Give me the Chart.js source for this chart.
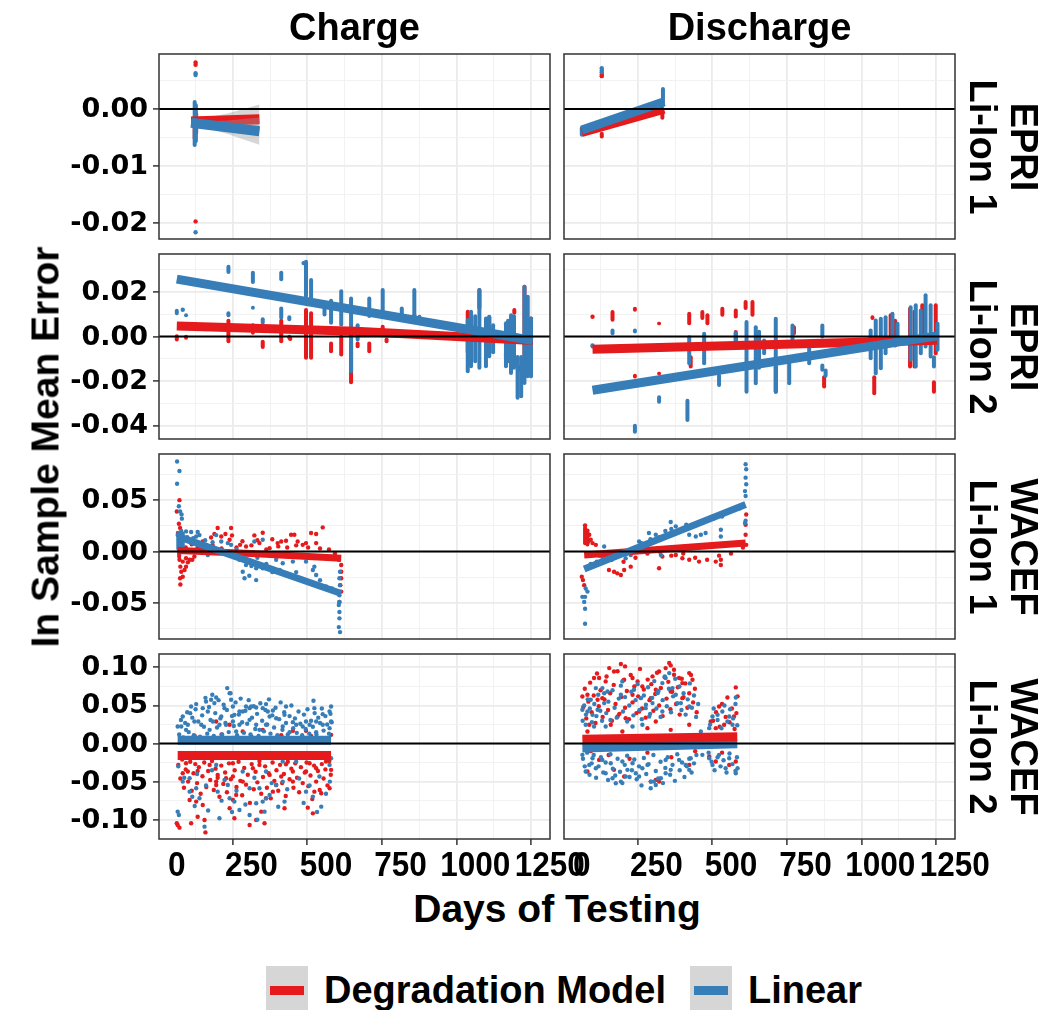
<!DOCTYPE html>
<html>
<head>
<meta charset="utf-8">
<script src="https://cdn.jsdelivr.net/npm/chart.js@4.4.1/dist/chart.umd.min.js"></script>
<style>
  html, body { margin:0; padding:0; background:#fff; }
  body { width:1056px; height:1010px; overflow:hidden; position:relative; font-family:'Liberation Sans', Arial, sans-serif; }
  canvas { position:absolute; }
  .txt { position:absolute; white-space:nowrap; font-weight:bold; color:#000; line-height:1; }
  .rot { position:absolute; white-space:nowrap; font-weight:bold; color:#000; text-align:center; }
  .box { position:absolute; }
</style>
</head>
<body>
<script>
// ---------- labels ----------
const rowLabels = [["EPRI","Li-Ion 1"],["EPRI","Li-Ion 2"],["WACEF","Li-Ion 1"],["WACEF","Li-Ion 2"]];
const colLabels = ["Charge","Discharge"];
const seriesNames = ["Degradation Model","Linear"];
const xTitle = "Days of Testing";
const yTitle = "In Sample Mean Error";

// ---------- axes ----------
const xLimits = [-59.6, 1250.6];
const xMajorTicks = [0,250,500,750,1000,1250];
const xMinorTicks = [125,375,625,875,1125];
const xTickLabels = ["0","250","500","750","1000","1250"];
const yLimitsByRow = [[-0.0229,0.0097],[-0.0461,0.0371],[-0.0851,0.0949],[-0.1254,0.1176]];
const yMajorByRow = [[-0.02,-0.01,0],[-0.04,-0.02,0,0.02],[-0.05,0,0.05],[-0.1,-0.05,0,0.05,0.1]];
const yMinorByRow = [[-0.015,-0.005,0.005],[-0.03,-0.01,0.01,0.03],[-0.075,-0.025,0.025,0.075],[-0.075,-0.025,0.025,0.075]];
const yTickLabelsByRow = [["-0.02","-0.01","0.00"],["-0.04","-0.02","0.00","0.02"],["-0.05","0.00","0.05"],["-0.10","-0.05","0.00","0.05","0.10"]];

// ---------- data: [day, error]  /  columns of points: [day, low, high] ----------
// EPRI Li-Ion 1 - Charge
const e1c_degPts = [[63,0.0082],[63,0.0078],[63,-0.0198],[58,-0.0030]];
const e1c_linPts = [[63,0.0063],[63,0.0060],[63,-0.0217]];
const e1c_degCols = [[60,-0.0055,-0.0010],[65,-0.0045,-0.0005]];
const e1c_linCols = [[60,-0.0067,0.0016],[64,-0.0060,0.0010]];
const e1c_degFit = [[48,-0.0022],[277,-0.0018]];
const e1c_linFit = [[48,-0.0024],[277,-0.0039]];
const e1c_degBand = [[48,-0.0026,-0.0018],[63,-0.0025,-0.0019],[170,-0.0032,-0.0008],[277,-0.0044,0.0008]];
const e1c_linBand = [[48,-0.0028,-0.0020],[63,-0.0028,-0.0022],[170,-0.0044,-0.0020],[277,-0.0063,-0.0015]];

// EPRI Li-Ion 1 - Discharge
const e1d_degPts = [[67,0.0061],[67,0.0058]];
const e1d_linPts = [[67,0.0072],[67,0.0068],[67,0.0065]];
const e1d_degCols = [[67,-0.0052,-0.0040],[270,-0.0019,-0.0005]];
const e1d_linCols = [[0,-0.0049,-0.0030],[4,-0.0046,-0.0032],[272,0.0004,0.0039]];
const e1d_degFit = [[0,-0.0041],[276,0.0000]];
const e1d_linFit = [[0,-0.0037],[276,0.0013]];

// EPRI Li-Ion 2 - Charge
const e2c_degPts = [[380,-0.0010]];
const e2c_linPts = [[20,0.0120],[425,0.0330]];
const e2c_degCols = [[0,-0.0023,0.0010],[31,-0.0015,0.0008],[173,-0.0030,0.0080],[255,0.0008,0.0060],[288,-0.0056,-0.0015],[350,-0.0030,0.0080],[377,-0.0015,0.0008],[433,-0.0105,0.0128],[450,-0.0105,0.0113],[517,-0.0075,-0.0023],[551,-0.0090,0.0008],[584,-0.0215,-0.0020],[606,-0.0053,-0.0023],[645,-0.0075,-0.0023],[690,0.0023,0.0053],[703,-0.0030,-0.0005],[754,0.0075,0.0098],[796,0.0075,0.0105],[975,-0.0080,0.0120],[1014,0.0120,0.0218],[1047,-0.0080,0.0095],[1103,-0.0098,-0.0068],[1131,0.0098,0.0128],[1150,-0.0158,-0.0128],[1165,-0.0158,0.0233],[1187,0.0053,0.0090]];
const e2c_linCols = [[0,0.0095,0.0125],[31,0.0086,0.0105],[173,0.0281,0.0323],[173,0.0086,0.0113],[255,0.0236,0.0296],[255,0.0120,0.0138],[288,0.0053,0.0086],[350,0.0248,0.0296],[350,0.0075,0.0135],[377,0.0068,0.0095],[433,0.0173,0.0345],[450,0.0165,0.0263],[495,0.0090,0.0158],[517,0.0053,0.0170],[551,0.0045,0.0213],[584,-0.0165,0.0180],[606,-0.0023,0.0060],[645,0.0083,0.0180],[690,0.0098,0.0218],[754,0.0068,0.0135],[796,0.0083,0.0218],[813,0.0053,0.0098],[975,-0.0165,0.0083],[986,-0.0143,0.0120],[1000,-0.0120,0.0100],[1014,-0.0150,0.0218],[1036,-0.0143,0.0090],[1047,-0.0098,0.0098],[1060,-0.0080,0.0060],[1103,-0.0143,0.0068],[1110,-0.0120,0.0080],[1120,-0.0173,0.0105],[1130,-0.0150,0.0100],[1142,-0.0285,-0.0083],[1154,-0.0278,-0.0083],[1165,-0.0218,0.0233],[1176,-0.0188,0.0188],[1187,-0.0188,0.0090]];
const e2c_degFit = [[0,0.0047],[600,0.0024],[1193,-0.0018]];
const e2c_linFit = [[0,0.0258],[1193,-0.0018]];

// EPRI Li-Ion 2 - Discharge
const e2d_degPts = [[36,0.0089]];
const e2d_linPts = [[36,-0.0040]];
const e2d_degCols = [[103,0.0066,0.0119],[178,0.0111,0.0134],[178,-0.0189,-0.0167],[259,0.0051,0.0066],[259,-0.0174,-0.0159],[360,0.0051,0.0111],[365,-0.0144,-0.0084],[404,0.0074,0.0119],[421,0.0051,0.0104],[471,0.0089,0.0134],[516,0.0081,0.0126],[516,-0.0039,0.0029],[549,0.0119,0.0164],[572,0.0089,0.0164],[650,-0.0257,-0.0129],[711,0.0006,0.0051],[812,-0.0234,-0.0174],[980,-0.0264,-0.0174],[974,0.0074,0.0096],[1035,-0.0039,0.0104],[1050,-0.0050,0.0080],[1100,-0.0144,0.0134],[1115,-0.0144,0.0120],[1141,-0.0039,0.0149],[1180,-0.0257,-0.0197],[1186,-0.0084,0.0149]];
const e2d_linCols = [[36,-0.0054,-0.0036],[103,0.0006,0.0036],[178,0.0014,0.0036],[178,-0.0437,-0.0392],[259,-0.0302,-0.0264],[360,-0.0129,0.0006],[354,-0.0385,-0.0280],[410,-0.0129,0.0021],[460,-0.0227,-0.0167],[516,-0.0054,0.0024],[552,-0.0257,0.0074],[583,-0.0219,0.0051],[594,-0.0150,0.0030],[611,-0.0084,-0.0009],[650,-0.0257,0.0089],[695,-0.0219,-0.0084],[706,-0.0039,0.0059],[762,-0.0129,-0.0024],[806,-0.0009,0.0059],[806,-0.0159,-0.0122],[817,-0.0185,-0.0144],[968,-0.0107,0.0036],[985,-0.0174,0.0081],[1002,-0.0152,0.0089],[1018,-0.0084,0.0096],[1041,-0.0047,0.0111],[1058,-0.0024,0.0066],[1102,-0.0114,0.0141],[1119,-0.0144,0.0149],[1136,-0.0084,0.0126],[1152,-0.0054,0.0194],[1169,-0.0099,0.0149],[1180,-0.0144,-0.0084],[1192,-0.0069,0.0066]];
const e2d_degFit = [[36,-0.0057],[1191,-0.0017]];
const e2d_linFit = [[36,-0.0242],[1191,0.0003]];

// WACEF Li-Ion 1 - Charge
const w1c_degPts = [[9,0.050],[0,0.039],[7,0.027],[11,0.023],[4,0.018],[9,-0.008],[12,-0.0147],[15,-0.0196],[11,-0.026],[12,-0.032],[20,-0.0245],[26,-0.018],[31,-0.0147],[37,-0.0105],[43,-0.008],[52,-0.008],[59,-0.0049],[20,-0.0098],[31,-0.0065],[115,0.0137],[126,0.017],[137,0.0229],[149,0.0147],[163,0.017],[182,0.0229],[185,0.0157],[177,0.0114],[87,0.0098],[98,0.0065],[212,0.0065],[232,0.0049],[260,0.0157],[288,0.0183],[277,0.0082],[311,0.0033],[338,0.0082],[350,0.0098],[366,0.0105],[383,0.0163],[394,0.0163],[405,0.0098],[433,0.0082],[450,0.018],[467,0.017],[489,0.0235],[467,0.0082],[422,0.0065],[551,-0.0131],[551,-0.0196],[551,-0.026],[548,-0.0327],[551,-0.039],[545,-0.049],[543,-0.008],
  [30,0.004],[50,0.007],[70,0.004],[90,0.002],[120,0.006],[150,0.003],[200,0.004],[220,0.010],[250,0.006],[270,0.011],[300,0.002],[320,0.012],[340,0.005],[370,0.004],[400,0.006],[440,0.004],[480,0.003],[510,0.002],[530,-0.002]];
const w1c_linPts = [[1,0.0876],[9,0.0784],[1,0.066],[7,0.044],[11,0.039],[16,0.036],[17,0.032],[3,0.016],[15,0.020],[31,0.0196],[48,0.019],[70,0.019],[65,0.0147],[76,0.016],[87,0.0],[104,-0.0033],[132,0.016],[149,0.0098],[171,0.0082],[182,0.0065],[221,-0.0196],[227,-0.026],[243,-0.0235],[266,-0.0278],[232,-0.0131],[260,0.0098],[288,0.0114],[266,-0.0163],[288,-0.0163],[333,-0.008],[366,-0.0033],[389,-0.0098],[433,-0.0098],[461,-0.0147],[467,-0.0229],[456,-0.018],[355,-0.0114],[547,-0.0196],[545,-0.026],[547,-0.0327],[545,-0.0425],[543,-0.052],[545,-0.0588],[545,-0.065],[543,-0.0735],[547,-0.0784],[545,-0.049],
  [25,0.012],[35,0.014],[45,0.010],[55,0.013],[60,0.008],[80,0.006],[95,0.011],[110,0.004],[120,0.009],[140,0.001],[160,-0.002],[190,-0.004],[200,0.002],[210,-0.008],[240,-0.010],[250,-0.014],[270,-0.006],[300,-0.012],[320,-0.020],[345,-0.018],[375,-0.022],[400,-0.020],[420,-0.028],[450,-0.030],[480,-0.028],[500,-0.034],[520,-0.036]];
const w1c_degCols = [[8,-0.0070,0.0040]];
const w1c_linCols = [[5,0.0000,0.0200],[12,-0.0030,0.0190],[20,0.0020,0.0195]];
const w1c_degFit = [[3,0.0010],[250,-0.0020],[551,-0.0065]];
const w1c_linFit = [[3,0.0147],[551,-0.0408]];

// WACEF Li-Ion 1 - Discharge
const w1d_degPts = [[11,0.0255],[19,0.0203],[25,0.0163],[30,0.0114],[36,0.0082],[47,0.0065],[16,0.0147],[22,0.0098],[0,-0.0245],[4,-0.0278],[8,-0.0327],[91,-0.018],[108,-0.0196],[119,-0.0212],[131,-0.0229],[142,-0.018],[164,-0.0147],[259,-0.0163],[337,-0.0065],[360,-0.008],[393,-0.0098],[449,-0.0098],[466,-0.0131],[466,-0.008],[549,0.0163],[549,0.026],[551,0.036],[551,0.0065],[270,-0.0049],[315,-0.0033],
  [60,-0.004],[100,-0.008],[140,-0.010],[180,-0.006],[220,-0.002],[260,0.000],[300,-0.004],[340,-0.002],[380,-0.006],[420,-0.008],[460,-0.004],[500,-0.002],[540,0.004]];
const w1d_linPts = [[11,-0.0441],[8,-0.049],[11,-0.0556],[11,-0.0703],[13,-0.036],[19,-0.039],[2,-0.0441],[75,0.0049],[103,-0.0033],[147,-0.0065],[164,-0.0033],[192,0.0098],[225,0.018],[248,0.0163],[265,-0.0033],[298,0.0288],[315,0.0245],[360,0.0163],[382,0.0147],[399,0.0163],[415,0.018],[466,0.0212],[466,0.0147],[549,0.085],[551,0.080],[549,0.0719],[551,0.0654],[547,0.0588],[549,0.054],[547,0.0278],[549,0.030],
  [30,-0.012],[50,-0.010],[70,-0.006],[90,-0.005],[110,-0.003],[130,0.000],[150,-0.002],[180,0.004],[200,0.008],[230,0.012],[260,0.014],[280,0.020],[300,0.022],[330,0.020],[350,0.026],[380,0.026],[410,0.030],[440,0.032],[470,0.034],[500,0.040],[530,0.042]];
const w1d_degCols = [[11,0.0060,0.0250],[19,0.0050,0.0200]];
const w1d_linCols = [];
const w1d_degFit = [[8,-0.0033],[549,0.0082]];
const w1d_linFit = [[8,-0.0170],[549,0.0458]];

// WACEF Li-Ion 2 - Charge
const w2c_degPts = [[3,-0.107],[9,-0.1105],[0,-0.1048],[48,-0.1048],[70,-0.0961],[93,-0.1004],[96,-0.1167],[43,-0.0741],[65,-0.0763],[87,-0.0807],[132,-0.0544],[137,-0.0412],[165,-0.0456],[177,-0.0851],[193,-0.0982],[199,-0.0675],[221,-0.05],[244,-0.107],[266,-0.1004],[283,-0.0895],[294,-0.1048],[299,-0.0719],[322,-0.0632],[333,-0.0544],[361,-0.0851],[389,-0.05],[439,-0.0842],[456,-0.0917],[461,-0.0632],[484,-0.0654],[512,-0.0588],[20,-0.039],[37,-0.0368],[70,-0.036],[132,-0.05],[188,-0.0434],[255,-0.0325],[311,-0.0412],[350,-0.0434],[389,-0.0368],[433,-0.0368],[467,-0.0325],[517,-0.0346],[31,-0.0259],[110,-0.0281],[188,-0.0259],[277,-0.0281],[366,-0.0272],[445,-0.0259],[500,-0.0237],[132,0.0289],[177,0.0246],[221,0.0158],[288,0.018],[389,0.0167],[433,0.0167],[517,0.0114],
  [5,-0.028],[12,-0.046],[18,-0.021],[24,-0.058],[30,-0.034],[38,-0.050],[45,-0.024],[50,-0.062],[56,-0.039],[62,-0.027],[68,-0.052],[74,-0.031],[80,-0.066],[86,-0.043],[92,-0.025],[99,-0.057],[105,-0.036],[112,-0.048],[118,-0.023],[124,-0.061],[130,-0.033],[137,-0.045],[143,-0.070],[149,-0.029],[156,-0.053],[162,-0.038],[168,-0.064],[175,-0.026],[181,-0.047],[188,-0.074],[194,-0.035],[200,-0.057],[207,-0.024],[213,-0.049],[219,-0.068],[226,-0.032],[232,-0.054],[238,-0.041],[245,-0.078],[251,-0.027],[258,-0.060],[264,-0.037],[270,-0.051],[277,-0.023],[283,-0.066],[289,-0.044],[296,-0.030],[302,-0.058],[308,-0.039],[315,-0.072],[321,-0.025],[327,-0.049],[334,-0.035],[340,-0.062],[346,-0.028],[353,-0.052],[359,-0.040],[365,-0.069],[372,-0.024],[378,-0.047],[384,-0.033],[391,-0.058],[397,-0.026],[403,-0.045],[410,-0.064],[416,-0.031],[422,-0.052],[429,-0.038],[435,-0.025],[441,-0.056],[448,-0.042],[454,-0.073],[460,-0.029],[467,-0.050],[473,-0.036],[479,-0.061],[486,-0.027],[492,-0.046],[498,-0.034],[505,-0.055],[511,-0.023],[516,-0.041],
  [60,0.010],[150,0.012],[250,0.009],[350,0.011],[450,0.010]];
const w2c_linPts = [[169,0.0728],[177,0.0662],[132,0.0605],[115,0.0575],[98,0.0553],[182,0.0575],[232,0.0487],[249,0.0487],[266,0.0474],[299,0.0518],[288,0.0465],[322,0.0434],[366,0.0487],[458,0.0561],[461,0.0465],[517,0.0487],[512,0.0421],[489,0.0386],[433,0.0289],[389,0.0281],[361,0.0377],[333,0.0333],[311,0.0355],[210,0.0421],[193,0.0377],[160,0.0465],[149,0.0355],[104,0.0421],[65,0.0518],[48,0.0487],[45,0.0399],[20,0.0355],[3,0.0224],[15,0.0224],[37,0.0246],[59,0.0289],[82,0.0246],[121,0.0289],[143,0.0246],[165,0.0246],[188,0.0289],[210,0.0246],[244,0.0311],[266,0.0246],[299,0.0246],[355,0.0224],[400,0.0246],[422,0.0224],[445,0.0246],[467,0.0289],[489,0.0246],[512,0.0202],[517,0.0289],[31,0.018],[110,0.018],[199,0.0158],[277,0.018],[378,0.0149],[467,0.0149],[87,0.0465],[126,0.0531],[188,0.0487],[221,0.0421],[244,0.0465],[305,0.0421],[20,-0.05],[43,-0.0632],[3,-0.0895],[7,-0.0939],[76,-0.0719],[93,-0.1092],[65,-0.0588],[137,-0.0632],[143,-0.0982],[171,-0.0544],[193,-0.0763],[210,-0.0873],[244,-0.0939],[244,-0.0588],[266,-0.0785],[288,-0.0763],[294,-0.0895],[311,-0.0675],[333,-0.0544],[355,-0.05],[361,-0.0763],[433,-0.0632],[456,-0.0697],[478,-0.0434],[484,-0.0829],[512,-0.0281],[517,-0.0193],[355,-0.0237],[400,-0.0237],[299,-0.0368],[43,-0.0456],[177,-0.0719],[277,-0.0588],[132,-0.0281],[221,-0.0368],
  [8,0.012],[14,0.031],[22,0.008],[28,0.027],[35,0.041],[40,0.015],[52,0.034],[57,0.011],[63,0.045],[72,0.029],[78,0.009],[85,0.037],[91,0.022],[96,0.060],[102,0.013],[108,0.048],[113,0.031],[119,0.064],[124,0.010],[129,0.040],[135,0.021],[140,0.057],[146,0.033],[152,0.012],[157,0.051],[163,0.027],[168,0.044],[174,0.015],[180,0.066],[185,0.036],[191,0.023],[197,0.054],[202,0.011],[208,0.038],[214,0.059],[219,0.028],[225,0.014],[230,0.043],[236,0.026],[241,0.057],[247,0.012],[252,0.034],[258,0.049],[263,0.019],[269,0.039],[274,0.010],[280,0.053],[286,0.030],[292,0.016],[297,0.044],[303,0.025],[309,0.058],[314,0.013],[320,0.037],[326,0.021],[331,0.047],[337,0.011],[343,0.032],[348,0.054],[354,0.018],[360,0.041],[366,0.027],[372,0.012],[378,0.036],[384,0.050],[390,0.020],[396,0.033],[402,0.014],[408,0.042],[414,0.026],[420,0.011],[426,0.038],[432,0.019],[438,0.045],[444,0.013],[450,0.030],[456,0.022],[462,0.040],[468,0.012],[474,0.034],[480,0.027],[486,0.046],[492,0.017],[498,0.036],[504,0.025],[510,0.013],[515,0.039],[519,0.028],
  [5,-0.030],[25,-0.045],[52,-0.070],[60,-0.082],[68,-0.040],[98,-0.055],[105,-0.088],[118,-0.035],[150,-0.075],[160,-0.048],[185,-0.090],[200,-0.062],[230,-0.080],[260,-0.045],[270,-0.100],[300,-0.072],[318,-0.052],[340,-0.083],[370,-0.060],[410,-0.046],[425,-0.078],[445,-0.055],[470,-0.090],[500,-0.066],[513,-0.050]];
const w2c_degCols = [];
const w2c_linCols = [];
const w2c_degFit = [[3,-0.0158],[517,-0.0158]];
const w2c_linFit = [[3,0.0044],[517,0.0044]];

// WACEF Li-Ion 2 - Discharge
const w2d_degPts = [[131,0.1044],[145,0.1013],[92,0.0991],[2,0.0618],[19,0.064],[41,0.086],[58,0.086],[80,0.0816],[53,0.0575],[69,0.0596],[108,0.0947],[142,0.0838],[170,0.086],[187,0.0816],[203,0.075],[237,0.0882],[259,0.0947],[281,0.0991],[293,0.1057],[298,0.1026],[309,0.0904],[326,0.086],[337,0.0794],[360,0.0925],[371,0.0838],[337,0.0596],[298,0.0684],[248,0.0706],[231,0.0596],[170,0.064],[147,0.0333],[192,0.0421],[120,0.0355],[97,0.0246],[25,0.0246],[19,0.0158],[136,0.0158],[220,0.0202],[248,0.0289],[298,0.018],[360,0.0246],[460,0.0487],[488,0.0605],[516,0.0737],[510,0.0355],[477,0.0246],[432,0.0289],[449,0.0202],[19,-0.0368],[58,-0.0215],[108,-0.0346],[142,-0.0434],[231,-0.05],[248,-0.0478],[259,-0.05],[360,-0.0281],[449,-0.0237],[494,-0.0281],[516,-0.0237],[427,-0.0171],
  [5,0.048],[10,0.072],[15,0.033],[22,0.055],[28,0.080],[33,0.041],[40,0.063],[46,0.027],[51,0.092],[57,0.049],[63,0.070],[70,0.035],[76,0.058],[83,0.088],[88,0.044],[95,0.066],[101,0.030],[107,0.077],[113,0.052],[120,0.095],[126,0.039],[132,0.061],[139,0.083],[145,0.047],[151,0.069],[158,0.032],[164,0.090],[170,0.054],[176,0.075],[183,0.040],[189,0.062],[195,0.098],[202,0.046],[208,0.071],[214,0.034],[221,0.084],[227,0.057],[233,0.078],[240,0.043],[246,0.065],[252,0.093],[259,0.050],[265,0.073],[271,0.036],[278,0.087],[284,0.059],[290,0.081],[297,0.045],[303,0.068],[309,0.097],[316,0.052],[322,0.074],[328,0.038],[335,0.085],[341,0.061],[347,0.079],[354,0.047],[360,0.066],[366,0.090],[373,0.054],[379,0.072],[385,0.041],[440,0.030],[450,0.041],[462,0.022],[470,0.052],[482,0.035],[495,0.028],[503,0.046],[512,0.019],[518,0.040],[522,0.062],
  [30,-0.010],[90,-0.015],[160,-0.020],[220,-0.012],[300,-0.018],[380,-0.010],[470,-0.012]];
const w2d_linPts = [[2,0.0443],[19,0.0421],[36,0.0377],[53,0.0443],[69,0.0728],[86,0.0684],[47,0.0728],[30,0.0575],[75,0.0531],[136,0.0816],[131,0.064],[175,0.0706],[198,0.0596],[214,0.0465],[237,0.0531],[254,0.0662],[281,0.086],[270,0.0794],[293,0.0925],[304,0.0728],[315,0.064],[332,0.0531],[360,0.0487],[270,0.0421],[226,0.0355],[170,0.0224],[203,0.0246],[80,0.0224],[41,0.0224],[13,0.0246],[455,0.0377],[471,0.0421],[494,0.0355],[516,0.0605],[505,0.0246],[438,0.0355],[427,0.0202],[399,0.0158],[2,-0.0149],[13,-0.0368],[25,-0.0281],[47,-0.0325],[69,-0.0215],[80,-0.039],[103,-0.0456],[114,-0.0522],[131,-0.05],[147,-0.0434],[181,-0.039],[192,-0.0434],[231,-0.0588],[248,-0.0544],[242,-0.05],[265,-0.0456],[281,-0.039],[298,-0.0346],[326,-0.0215],[348,-0.0281],[360,-0.0346],[365,-0.0193],[427,-0.0193],[438,-0.0281],[460,-0.0149],[482,-0.0325],[516,-0.039],[522,-0.0325],[203,-0.0325],[170,-0.0259],[136,-0.0237],[36,-0.0193],[97,-0.0259],[153,-0.0346],[220,-0.0281],[281,-0.0215],[404,-0.0149],[494,-0.0193],
  [3,0.030],[8,0.050],[14,0.038],[20,0.058],[27,0.046],[34,0.028],[42,0.052],[49,0.036],[55,0.064],[62,0.043],[68,0.030],[75,0.066],[82,0.040],[89,0.055],[96,0.031],[103,0.070],[110,0.047],[117,0.034],[124,0.059],[131,0.076],[138,0.042],[145,0.061],[152,0.029],[159,0.050],[166,0.068],[173,0.037],[180,0.057],[187,0.078],[194,0.044],[201,0.032],[208,0.063],[215,0.051],[222,0.074],[229,0.039],[236,0.060],[243,0.082],[250,0.046],[257,0.069],[264,0.035],[271,0.057],[278,0.088],[285,0.049],[292,0.072],[299,0.041],[306,0.062],[313,0.085],[320,0.053],[327,0.075],[334,0.044],[341,0.066],[348,0.038],[355,0.058],[362,0.079],[369,0.047],[376,0.063],[383,0.035],[390,0.052],[430,0.025],[442,0.046],[455,0.031],[468,0.020],[478,0.050],[488,0.029],[497,0.045],[507,0.033],[515,0.052],[521,0.024],
  [4,-0.020],[10,-0.030],[18,-0.012],[26,-0.041],[33,-0.026],[40,-0.015],[48,-0.045],[56,-0.030],[64,-0.018],[72,-0.038],[80,-0.025],[88,-0.048],[96,-0.014],[104,-0.033],[112,-0.042],[120,-0.020],[128,-0.037],[136,-0.052],[144,-0.028],[152,-0.016],[160,-0.044],[168,-0.035],[176,-0.021],[184,-0.047],[192,-0.030],[200,-0.055],[208,-0.019],[216,-0.040],[224,-0.027],[232,-0.050],[240,-0.015],[248,-0.036],[256,-0.046],[264,-0.024],[272,-0.052],[280,-0.032],[288,-0.018],[296,-0.041],[304,-0.028],[312,-0.049],[320,-0.014],[328,-0.035],[336,-0.025],[344,-0.044],[352,-0.030],[360,-0.020],[368,-0.038],[376,-0.026],[384,-0.015],[425,-0.012],[435,-0.024],[445,-0.035],[455,-0.018],[465,-0.030],[475,-0.022],[485,-0.038],[495,-0.013],[505,-0.027],[515,-0.036],[520,-0.018]];
const w2d_degCols = [];
const w2d_linCols = [];
const w2d_degFit = [[2,0.0057],[521,0.0088]];
const w2d_linFit = [[2,-0.0058],[521,-0.0004]];

// ---------- panels ----------
const panels = [
  {row:0,col:0,degPts:e1c_degPts,linPts:e1c_linPts,degCols:e1c_degCols,linCols:e1c_linCols,degFit:e1c_degFit,linFit:e1c_linFit,degBand:e1c_degBand,linBand:e1c_linBand,lw:10,redTop:false},
  {row:0,col:1,degPts:e1d_degPts,linPts:e1d_linPts,degCols:e1d_degCols,linCols:e1d_linCols,degFit:e1d_degFit,linFit:e1d_linFit,lw:9,redTop:false},
  {row:1,col:0,degPts:e2c_degPts,linPts:e2c_linPts,degCols:e2c_degCols,linCols:e2c_linCols,degFit:e2c_degFit,linFit:e2c_linFit,lw:9,redTop:false},
  {row:1,col:1,degPts:e2d_degPts,linPts:e2d_linPts,degCols:e2d_degCols,linCols:e2d_linCols,degFit:e2d_degFit,linFit:e2d_linFit,lw:9,redTop:false},
  {row:2,col:0,degPts:w1c_degPts,linPts:w1c_linPts,degCols:w1c_degCols,linCols:w1c_linCols,degFit:w1c_degFit,linFit:w1c_linFit,lw:7,redTop:false},
  {row:2,col:1,degPts:w1d_degPts,linPts:w1d_linPts,degCols:w1d_degCols,linCols:w1d_linCols,degFit:w1d_degFit,linFit:w1d_linFit,lw:7,redTop:false},
  {row:3,col:0,degPts:w2c_degPts,linPts:w2c_linPts,degCols:w2c_degCols,linCols:w2c_linCols,degFit:w2c_degFit,linFit:w2c_linFit,lw:9,redTop:false},
  {row:3,col:1,degPts:w2d_degPts,linPts:w2d_linPts,degCols:w2d_degCols,linCols:w2d_linCols,degFit:w2d_degFit,linFit:w2d_linFit,lw:9,redTop:true}
];

// ---------- layout (pixels) ----------
const RED = '#E41A1C', BLUE = '#377EB8', RIBBON = 'rgba(153,153,153,0.4)';
const colBox = [[159,550],[564,955]];
const rowBox = [[54,239],[254,439],[454,639],[654,839]];
const canvasCols = [[0,600],[557,1000]];

const toXY = a => a.map(p => ({x:p[0], y:p[1]}));
const toBars = a => a.map(p => ({x:p[0], y:[p[1], p[2]]}));

function datasetsFor(p) {
  const ds = [];
  ds.push({type:'bar', data:toBars(p.degCols), backgroundColor:RED, barThickness:4, grouped:false, borderRadius:2, borderSkipped:false, borderWidth:0, inflateAmount:0, order:40});
  ds.push({type:'scatter', data:toXY(p.degPts), backgroundColor:RED, pointRadius:2.2, pointBorderWidth:0, order:39});
  ds.push({type:'bar', data:toBars(p.linCols), backgroundColor:BLUE, barThickness:4, grouped:false, borderRadius:2, borderSkipped:false, borderWidth:0, inflateAmount:0, order:38});
  ds.push({type:'scatter', data:toXY(p.linPts), backgroundColor:BLUE, pointRadius:2.2, pointBorderWidth:0, order:37});
  const groups = [
    {fit:p.degFit, band:p.degBand, color:RED},
    {fit:p.linFit, band:p.linBand, color:BLUE}
  ];
  const seq = p.redTop ? [groups[1], groups[0]] : [groups[0], groups[1]];
  let ord = 20;
  seq.forEach(g => {
    if (g.band) {
      ds.push({type:'line', data:g.band.map(b=>({x:b[0],y:b[1]})), borderWidth:0, pointRadius:0, fill:false, order:ord+0.5});
      ds.push({type:'line', data:g.band.map(b=>({x:b[0],y:b[2]})), borderWidth:0, pointRadius:0, fill:'-1', backgroundColor:RIBBON, order:ord});
    }
    ord -= 1;
    ds.push({type:'line', data:toXY(g.fit), borderColor:g.color, borderWidth:p.lw, pointRadius:0, fill:false, tension:0, borderCapStyle:'butt', order:ord});
    ord -= 1;
  });
  return ds;
}

const decoPlugin = {
  id: 'deco',
  afterDatasetsDraw(chart, args, o) {
    const {ctx, chartArea:a} = chart;
    const y = chart.scales.y;
    const y0 = y.getPixelForValue(0);
    ctx.save();
    ctx.beginPath(); ctx.moveTo(a.left, y0); ctx.lineTo(a.right, y0);
    ctx.lineWidth = 2; ctx.strokeStyle = '#000'; ctx.stroke();
    ctx.lineWidth = 1.5; ctx.strokeStyle = '#333';
    ctx.strokeRect(a.left, a.top, a.right - a.left, a.bottom - a.top);
    ctx.restore();
  },
  afterDraw(chart, args, o) {
    const {ctx, chartArea:a} = chart;
    ctx.save();
    ctx.fillStyle = '#000';
    if (o.col === 0) {
      const ys = chart.scales.y;
      ctx.font = "bold 27px 'DejaVu Sans'";
      ctx.textAlign = 'right'; ctx.textBaseline = 'middle';
      ys.ticks.forEach(t => {
        const i = yMajorByRow[o.row].findIndex(v => Math.abs(v - t.value) < 1e-9);
        if (i >= 0) ctx.fillText(yTickLabelsByRow[o.row][i], a.left - 11, ys.getPixelForValue(t.value) + 1);
      });
    }
    if (o.row === 3) {
      const xs = chart.scales.x;
      ctx.font = "bold 35px 'Liberation Sans'";
      ctx.textAlign = 'center'; ctx.textBaseline = 'alphabetic';
      xs.ticks.forEach(t => {
        const i = xMajorTicks.indexOf(t.value);
        if (i >= 0) {
          ctx.save();
          ctx.translate(xs.getPixelForValue(t.value), a.bottom + 37);
          ctx.scale(0.9, 1);
          ctx.fillText(xTickLabels[i], 0, 0);
          ctx.restore();
        }
      });
    }
    ctx.restore();
  }
};

function gridOpts(majors, showTicks) {
  const isMajor = c => c && c.tick && majors.some(m => Math.abs(m - c.tick.value) < 1e-9);
  return {
    display: true,
    color: c => isMajor(c) ? '#EBEBEB' : '#F0F0F0',
    lineWidth: c => isMajor(c) ? 1.8 : 0.9,
    drawTicks: showTicks,
    tickLength: 6,
    tickColor: c => isMajor(c) ? '#333' : 'rgba(0,0,0,0)',
    tickWidth: 1.5
  };
}

panels.forEach(p => {
  const [L, R] = colBox[p.col];
  const [T, B] = rowBox[p.row];
  const cx = canvasCols[p.col][0];
  const cw = canvasCols[p.col][1] - cx;
  const cy = T - 7;
  const ch = (p.row === 3 ? 885 : B + 7) - cy;
  const cv = document.createElement('canvas');
  cv.width = cw; cv.height = ch;
  cv.style.left = cx + 'px'; cv.style.top = cy + 'px';
  cv.style.width = cw + 'px'; cv.style.height = ch + 'px';
  document.body.appendChild(cv);
  const yMaj = yMajorByRow[p.row], yMin = yMinorByRow[p.row];
  try {
  new Chart(cv.getContext('2d'), {
    type: 'scatter',
    data: { datasets: datasetsFor(p) },
    options: {
      responsive: false, animation: false, devicePixelRatio: 1, events: [],
      layout: { padding: { left: L - cx, right: cx + cw - R, top: T - cy, bottom: cy + ch - B } },
      plugins: { legend: {display:false}, tooltip: {enabled:false}, deco: {row:p.row, col:p.col} },
      scales: {
        x: {
          type: 'linear', min: xLimits[0], max: xLimits[1], offset: false,
          afterBuildTicks: s => { s.ticks = xMajorTicks.concat(xMinorTicks).sort((a,b)=>a-b).map(v => ({value:v})); },
          afterFit: s => { s.height = 0; },
          ticks: { display: false },
          grid: gridOpts(xMajorTicks, p.row === 3),
          border: { display: false }
        },
        y: {
          type: 'linear', min: yLimitsByRow[p.row][0], max: yLimitsByRow[p.row][1],
          afterBuildTicks: s => { s.ticks = yMaj.concat(yMin).sort((a,b)=>a-b).map(v => ({value:v})); },
          afterFit: s => { s.width = 0; },
          ticks: { display: false },
          grid: gridOpts(yMaj, p.col === 0),
          border: { display: false }
        }
      }
    },
    plugins: [decoPlugin]
  });
  } catch (e) { console.error(e); }
});

// ---------- text ----------
function addText(txt, left, top, size, center) {
  const d = document.createElement('div');
  d.className = 'txt';
  d.textContent = txt;
  d.style.fontSize = size + 'px';
  d.style.top = top + 'px';
  d.style.left = left + 'px';
  if (center) d.style.transform = 'translateX(-50%)';
  document.body.appendChild(d);
  return d;
}
colLabels.forEach((t, i) => addText(t, (colBox[i][0] + colBox[i][1]) / 2, 8, 38, true));
addText(xTitle, (colBox[0][0] + colBox[1][1]) / 2, 889, 39, true);

rowLabels.forEach((lines, i) => {
  const d = document.createElement('div');
  d.className = 'rot';
  d.innerHTML = lines.map(s => '<div>' + s + '</div>').join('');
  d.style.fontSize = '38px'; d.style.lineHeight = '41px';
  d.style.left = '1003px'; d.style.top = ((rowBox[i][0] + rowBox[i][1]) / 2) + 'px';
  d.style.transform = 'translate(-50%,-50%) rotate(90deg)';
  document.body.appendChild(d);
});
{
  const d = document.createElement('div');
  d.className = 'rot';
  d.textContent = yTitle;
  d.style.fontSize = '39px'; d.style.lineHeight = '39px';
  d.style.left = '45px'; d.style.top = ((rowBox[0][0] + rowBox[3][1]) / 2) + 'px';
  d.style.transform = 'translate(-50%,-50%) rotate(-90deg)';
  document.body.appendChild(d);
}
// legend
const legendKeys = [{x:266, color:RED, textX:324}, {x:690, color:BLUE, textX:748}];
seriesNames.forEach((name, i) => {
  const k = legendKeys[i];
  const b = document.createElement('div'); b.className = 'box';
  b.style.cssText = `left:${k.x}px;top:966px;width:42px;height:50px;background:#D6D6D6;`;
  document.body.appendChild(b);
  const l = document.createElement('div'); l.className = 'box';
  l.style.cssText = `left:${k.x+4}px;top:986px;width:34px;height:9px;background:${k.color};`;
  document.body.appendChild(l);
  addText(name, k.textX, 971, 38, false);
});
</script>
</body>
</html>
